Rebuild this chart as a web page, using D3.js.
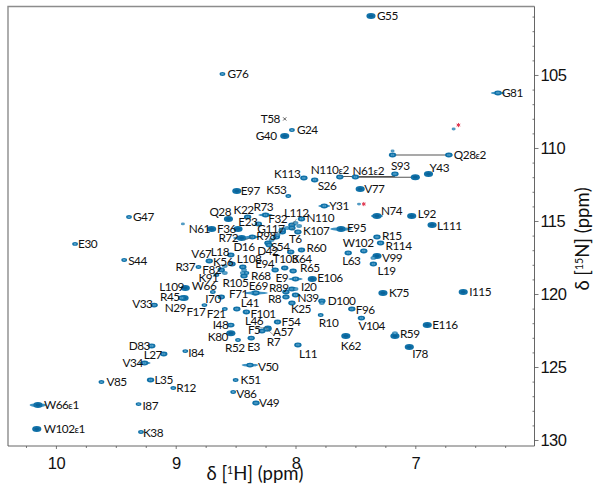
<!DOCTYPE html>
<html>
<head>
<meta charset="utf-8">
<script src="https://d3js.org/d3.v7.min.js"></script>
<style>
body { margin: 0; background: #fff; }
svg { display: block; font-family: Lato, "Open Sans", sans-serif; }
.axis text { font-size: 16.5px; fill: #111; letter-spacing: -0.6px; }
.axis .domain { display: none; }
.lab { font-size: 11.8px; fill: #111; letter-spacing: -0.5px; }
</style>
</head>
<body>
<div id="chart"></div>
<script>
// assigned peaks, same order in all three arrays
const residues = [
  "G76","T58","G40","G24","K113","E97","K53","G47","Q28","K22",
  "R73","L112","F32","E23","N61","F36","G117","R72","D16","R98",
  "T6","S54","D42","K107","N110","Y31","R60","K64","T103","E94",
  "R65","E106","E9","I20","R89","R8","N39","K25","D100","L18",
  "V67","K56","L108","R37","F82","K91","R68","R105","W66","E69",
  "F71","I70","L109","R45","N29","V33","F17","F21","L41","F101",
  "I48","L46","F54","F5","A57","R7","K80","R52","E3","D83",
  "L27","I84","V34","V50","V85","L35","K51","R12","V86","V49",
  "W66ε1","I87","W102ε1","K38","E30","S44","G55","G81","Q28ε2","N110ε2",
  "N61ε2","S93","Y43","S26","V77","N74","L92","L111","E95","R15",
  "R114","W102","L63","V99","L19","K75","I115","F96","V104","R10",
  "E116","R59","K62","I78","L11"
];
const hShift = [
  8.61,8.09,8.09,8.03,7.93,8.49,8.06,9.39,8.56,8.40,
  8.25,8.03,8.11,8.31,8.70,8.48,8.11,8.45,8.36,8.16,
  8.03,8.23,8.22,7.98,7.95,7.76,7.95,8.04,8.09,8.17,
  8.02,7.86,8.00,8.03,8.08,8.08,8.00,8.03,7.78,8.54,
  8.72,8.53,8.44,8.81,8.62,8.66,8.43,8.41,8.69,8.34,
  8.33,8.62,8.92,8.93,8.95,9.18,8.76,8.59,8.49,8.41,
  8.54,8.23,8.15,8.28,8.23,8.24,8.54,8.48,8.37,9.20,
  9.10,8.92,9.26,8.38,9.62,9.21,8.50,9.02,8.52,8.33,
  10.15,9.31,10.16,9.29,9.84,9.43,7.37,6.31,6.72,7.63,
  7.50,7.17,6.89,7.84,7.46,7.32,7.03,6.86,7.62,7.32,
  7.29,7.43,7.56,7.32,7.35,7.27,6.60,7.53,7.45,7.79,
  6.90,7.17,7.58,7.05,7.98
];
const nShift = [
  104.93,108.01,109.18,108.77,112.06,112.95,113.29,114.73,114.86,114.73,
  114.59,115.27,115.75,115.20,115.55,115.55,115.62,116.17,116.10,116.10,
  115.48,116.51,116.65,115.75,114.86,113.97,116.99,117.12,118.22,118.36,
  118.43,118.97,118.97,119.66,119.86,120.21,120.07,120.62,120.48,117.33,
  117.74,117.95,118.15,118.15,118.36,118.70,118.77,118.56,119.86,119.93,
  119.93,120.21,119.59,120.28,120.28,120.76,120.76,121.03,121.03,121.23,
  122.13,122.33,121.92,122.54,122.40,122.40,122.68,123.15,123.02,123.56,
  124.11,123.91,124.73,124.87,126.03,125.89,125.89,126.44,126.71,127.47,
  127.61,127.54,129.25,129.45,116.57,117.67,100.96,106.23,110.48,111.99,
  111.99,111.78,111.78,112.19,112.81,114.66,114.66,115.27,115.55,116.10,
  116.51,117.05,117.19,117.40,117.95,119.93,119.86,121.03,121.65,121.44,
  122.13,122.88,122.88,123.63,123.49
];

// peaks with no label of their own
const unassignedH = [8.94,6.68,7.47,8.00,8.07,8.15,8.20,7.97,8.43,8.44,8.59,8.59,8.00,7.78,7.19,7.17,7.35,7.19,7.00];
const unassignedN = [115.20,108.70,113.84,115.14,115.48,115.96,116.30,115.34,118.36,118.56,118.08,118.56,119.66,120.62,110.20,122.68,117.53,110.48,112.00];
const unassignedLevel = [0,0,0,1,1,1,1,1,1,1,1,1,1,1,0,1,1,2,3];

// peak heights, everything else is medium
const weakPeaks = ["G76","G47","K38","G24","K53","E30","S44","F21","R52","R10","I84","R12","V85","K51","V86","I87","R37","F17","K91","W66","R105"];
const strongPeaks = ["E97","G40","Q28","N61","F36","R72","E106","K75","I115","E116","I78","R59","N74","L92","Y43","V77","V99","K80","R45","L109","G55","W102ε1","W66ε1","L111","K62","E95"];

// broad lines, width along 1H in ppm
const broadNames = ["G81","E95","F71","E69","W66ε1","V50","N74","Y31","R73","R72","D16","V34","Q28ε2","E9"];
const broadWidth = [0.06,0.09,0.10,0.08,0.07,0.07,0.05,0.05,0.06,0.07,0.06,0.05,0.03,0.06];

// side chain amide pairs: H1, H2, N
const pairH1 = [7.19,7.63,7.50];
const pairH2 = [6.72,7.17,7.00];
const pairN = [110.48,111.95,112.00];

// solvent artefacts
const artefactH = [6.64,7.43];
const artefactN = [108.43,113.84];

const hTicks = [10,9,8,7];
const nTicks = [105,110,115,120,125,130];

// label placement relative to its peak, px
const labelOffset = {
  G76:[5,0],T58:[-24,0],G40:[-29,0],G24:[5,0],K113:[-30,-4],E97:[4,0],K53:[-22,-6],G47:[4,0],Q28:[-19,-7],K22:[-14,-7],
  R73:[-12,-8],L112:[-8,-12],F32:[-14,-13],E23:[-20,-2],N61:[-23,0],F36:[-21,0],G117:[-25,-1],R72:[-23,0],D16:[-19,10],R98:[-20,-1],
  T6:[-3,11],S54:[3,4],D42:[-12,6],K107:[5,-1],N110:[5,-1],Y31:[5,0],R60:[5,-2],K64:[1,7],T103:[-12,-9],E94:[-20,-6],
  R65:[7,-3],E106:[5,-1],E9:[-20,-1],I20:[9,-2],R89:[-17,-4],R8:[-18,2],N39:[2,3],K25:[-1,6],D100:[6,0],L18:[-20,-3],
  V67:[-18,-7],K56:[-19,-2],L108:[-6,-8],R37:[-23,0],F82:[-19,0],K91:[-18,3],R68:[7,0],R105:[-24,10],W66:[-21,-6],E69:[-6,-7],
  F71:[-27,1],I70:[-16,2],L109:[-26,-1],R45:[-24,-1],N29:[-17,10],V33:[-22,-1],F17:[-18,7],F21:[-18,5],L41:[4,-6],F101:[4,2],
  I48:[-18,0],L46:[-23,-7],F54:[4,0],F5:[-14,-1],A57:[5,3],R7:[0,13],K80:[-23,4],R52:[-13,8],E3:[-4,9],D83:[-23,0],
  L27:[-20,1],I84:[3,2],V34:[-22,0],V50:[8,2],V85:[5,0],L35:[4,0],K51:[5,0],R12:[3,0],V86:[3,2],V49:[3,0],
  "W66ε1":[6,0],I87:[4,2],"W102ε1":[7,0],K38:[2,1],E30:[3,0],S44:[4,1],G55:[6,0],G81:[4,0],"Q28ε2":[5,0],"N110ε2":[-29,-7],
  "N61ε2":[-3,-6],S93:[-4,-8],Y43:[1,-6],S26:[3,6],V77:[4,0],N74:[4,-5],L92:[6,-2],L111:[5,1],E95:[6,-1],R15:[5,-1],
  R114:[5,3],W102:[-21,-8],L63:[-6,8],V99:[5,2],L19:[4,7],K75:[6,0],I115:[6,0],F96:[4,1],V104:[-3,8],R10:[-2,8],
  E116:[5,0],R59:[5,-2],K62:[-5,10],I78:[3,7],L11:[1,9]
};
const leaderNames = ["D16","L112","F32","L46","G117","T6","R7"];

const width = 604, height = 492;
const plot = {left: 8, right: 534.5, top: 6.5, bottom: 446};

const svg = d3.select("#chart").append("svg")
  .attr("width", width)
  .attr("height", height);

// 1H runs backwards, 15N runs downwards
const x = d3.scaleLinear().domain([10.4, 6.005]).range([plot.left, plot.right]);
const y = d3.scaleLinear().domain([100.31, 130.41]).range([plot.top, plot.bottom]);

// frame, the left and top edges are lighter in the original
const frame = svg.append("g").attr("fill", "none");
frame.append("path").attr("d", `M${plot.left},${plot.bottom}V${plot.top}H${plot.right}`)
  .attr("stroke", "#8c8c8c").attr("stroke-width", 1.4);
frame.append("path").attr("d", `M${plot.right},${plot.top}V${plot.bottom}H${plot.left}`)
  .attr("stroke", "#555").attr("stroke-width", 0.9);

// major and minor ticks
const xMinor = d3.range(6.25, 10.4, 0.25).filter(d => !hTicks.includes(d));
const yMinor = d3.range(101, 130.4, 1).filter(d => !nTicks.includes(d));

svg.append("g").attr("class", "axis")
  .attr("transform", `translate(0,${plot.bottom})`)
  .call(d3.axisBottom(x).tickValues(hTicks).tickFormat(d3.format("d")).tickSize(3).tickPadding(8));
svg.append("g").attr("class", "axis")
  .attr("transform", `translate(0,${plot.bottom})`)
  .call(d3.axisBottom(x).tickValues(xMinor).tickFormat("").tickSize(2));

svg.append("g").attr("class", "axis")
  .attr("transform", `translate(${plot.right},0)`)
  .call(d3.axisRight(y).tickValues(nTicks).tickFormat(d3.format("d")).tickSize(4).tickPadding(2));
svg.append("g").attr("class", "axis")
  .attr("transform", `translate(${plot.right},0)`)
  .call(d3.axisLeft(y).tickValues(yMinor).tickFormat("").tickSize(2));

svg.selectAll(".axis .tick line").attr("stroke", "#555").attr("stroke-width", 0.8);

// axis titles
const xTitle = svg.append("text").attr("x", 255).attr("y", 480)
  .attr("text-anchor", "middle").attr("font-size", 18.5).attr("fill", "#111");
xTitle.append("tspan").text("δ [");
xTitle.append("tspan").attr("font-size", 10.5).attr("dy", -6).text("1");
xTitle.append("tspan").attr("dy", 6).text("H] (ppm)");

const yTitle = svg.append("text")
  .attr("transform", "translate(589,239) rotate(-90)")
  .attr("text-anchor", "middle").attr("font-size", 18.5).attr("fill", "#111");
yTitle.append("tspan").text("δ [");
yTitle.append("tspan").attr("font-size", 10.5).attr("dy", -6).text("15");
yTitle.append("tspan").attr("dy", 6).text("N] (ppm)");

// side chain connectors
svg.append("g").selectAll("line")
  .data(pairH1)
  .join("line")
  .attr("x1", d => x(d))
  .attr("x2", (d, i) => x(pairH2[i]))
  .attr("y1", (d, i) => y(pairN[i]))
  .attr("y2", (d, i) => y(pairN[i]))
  .attr("stroke", "#555")
  .attr("stroke-width", 1.1);

// peak table for the contours
let peaks = residues.map((name, i) => ({
  name: name,
  h: hShift[i],
  n: nShift[i],
  level: weakPeaks.includes(name) ? 1 : strongPeaks.includes(name) ? 3 : 2
})).filter(d => d.name != "T58");
unassignedH.forEach((h, i) => peaks.push({name: "", h: h, n: unassignedN[i], level: unassignedLevel[i]}));

const sizeX = d3.scaleLinear().domain([0, 3]).range([2, 4.6]);
const sizeY = d3.scaleLinear().domain([0, 3]).range([1.4, 3]);

const peakG = svg.append("g").selectAll("g")
  .data(peaks)
  .join("g")
  .attr("transform", d => `translate(${x(d.h)},${y(d.n)})`);

// broad shoulder under the contour
peakG.filter(d => broadNames.includes(d.name)).append("ellipse")
  .attr("rx", d => x(0) - x(broadWidth[broadNames.indexOf(d.name)]))
  .attr("ry", d => sizeY(d.level) * 0.6)
  .attr("fill", "#3f93c3");

peakG.append("ellipse")
  .attr("rx", d => sizeX(d.level))
  .attr("ry", d => sizeY(d.level))
  .attr("fill", "#1071a8")
  .attr("fill-opacity", d => d.level < 2 && d.name == "" ? 0.75 : 1);

// contour hole at the top of the low peaks, solid centre on the tall ones
peakG.append("ellipse")
  .attr("rx", d => sizeX(d.level) * 0.5)
  .attr("ry", d => sizeY(d.level) * 0.45)
  .attr("fill", d => d.level < 3 ? "#58a4cc" : "#0a6298");
peakG.filter(d => d.level == 2).append("ellipse")
  .attr("rx", d => sizeX(d.level) * 0.2)
  .attr("ry", d => sizeY(d.level) * 0.2)
  .attr("fill", "#0a6298");

// T58 is only a small cross in the original
const t58 = residues.indexOf("T58");
svg.append("path")
  .attr("transform", `translate(${x(hShift[t58])},${y(nShift[t58])})`)
  .attr("d", d3.symbol(d3.symbolTimes, 8)())
  .attr("stroke", "#333").attr("stroke-width", 0.8).attr("fill", "none");

svg.append("g").selectAll("path")
  .data(artefactH)
  .join("path")
  .attr("transform", (d, i) => `translate(${x(d)},${y(artefactN[i])})`)
  .attr("d", d3.symbol(d3.symbolAsterisk, 12)())
  .attr("stroke", "#e0364f").attr("stroke-width", 1).attr("fill", "none");

// residue labels
const labels = svg.append("g").selectAll("text")
  .data(residues)
  .join("text")
  .attr("class", "lab")
  .attr("x", (d, i) => x(hShift[i]) + labelOffset[d][0])
  .attr("y", (d, i) => y(nShift[i]) + labelOffset[d][1])
  .attr("dy", "0.35em");

labels.each(function(d) {
  const parts = d.split("ε");
  const t = d3.select(this);
  t.append("tspan").text(parts[0]);
  if (parts.length > 1) {
    t.append("tspan").attr("font-size", 10).text("ε");
    t.append("tspan").text(parts[1]);
  }
});

// thin leaders for the crowded labels
const leaderG = svg.append("g");
labels.filter(d => leaderNames.includes(d)).each(function(d) {
  const box = this.getBBox();
  const i = residues.indexOf(d);
  const py = y(nShift[i]);
  leaderG.append("line")
    .attr("x1", x(hShift[i]))
    .attr("y1", py)
    .attr("x2", box.x + box.width / 2)
    .attr("y2", py > box.y ? box.y + box.height - 1 : box.y + 1)
    .attr("stroke", "#555")
    .attr("stroke-width", 0.5);
});
</script>
</body>
</html>
